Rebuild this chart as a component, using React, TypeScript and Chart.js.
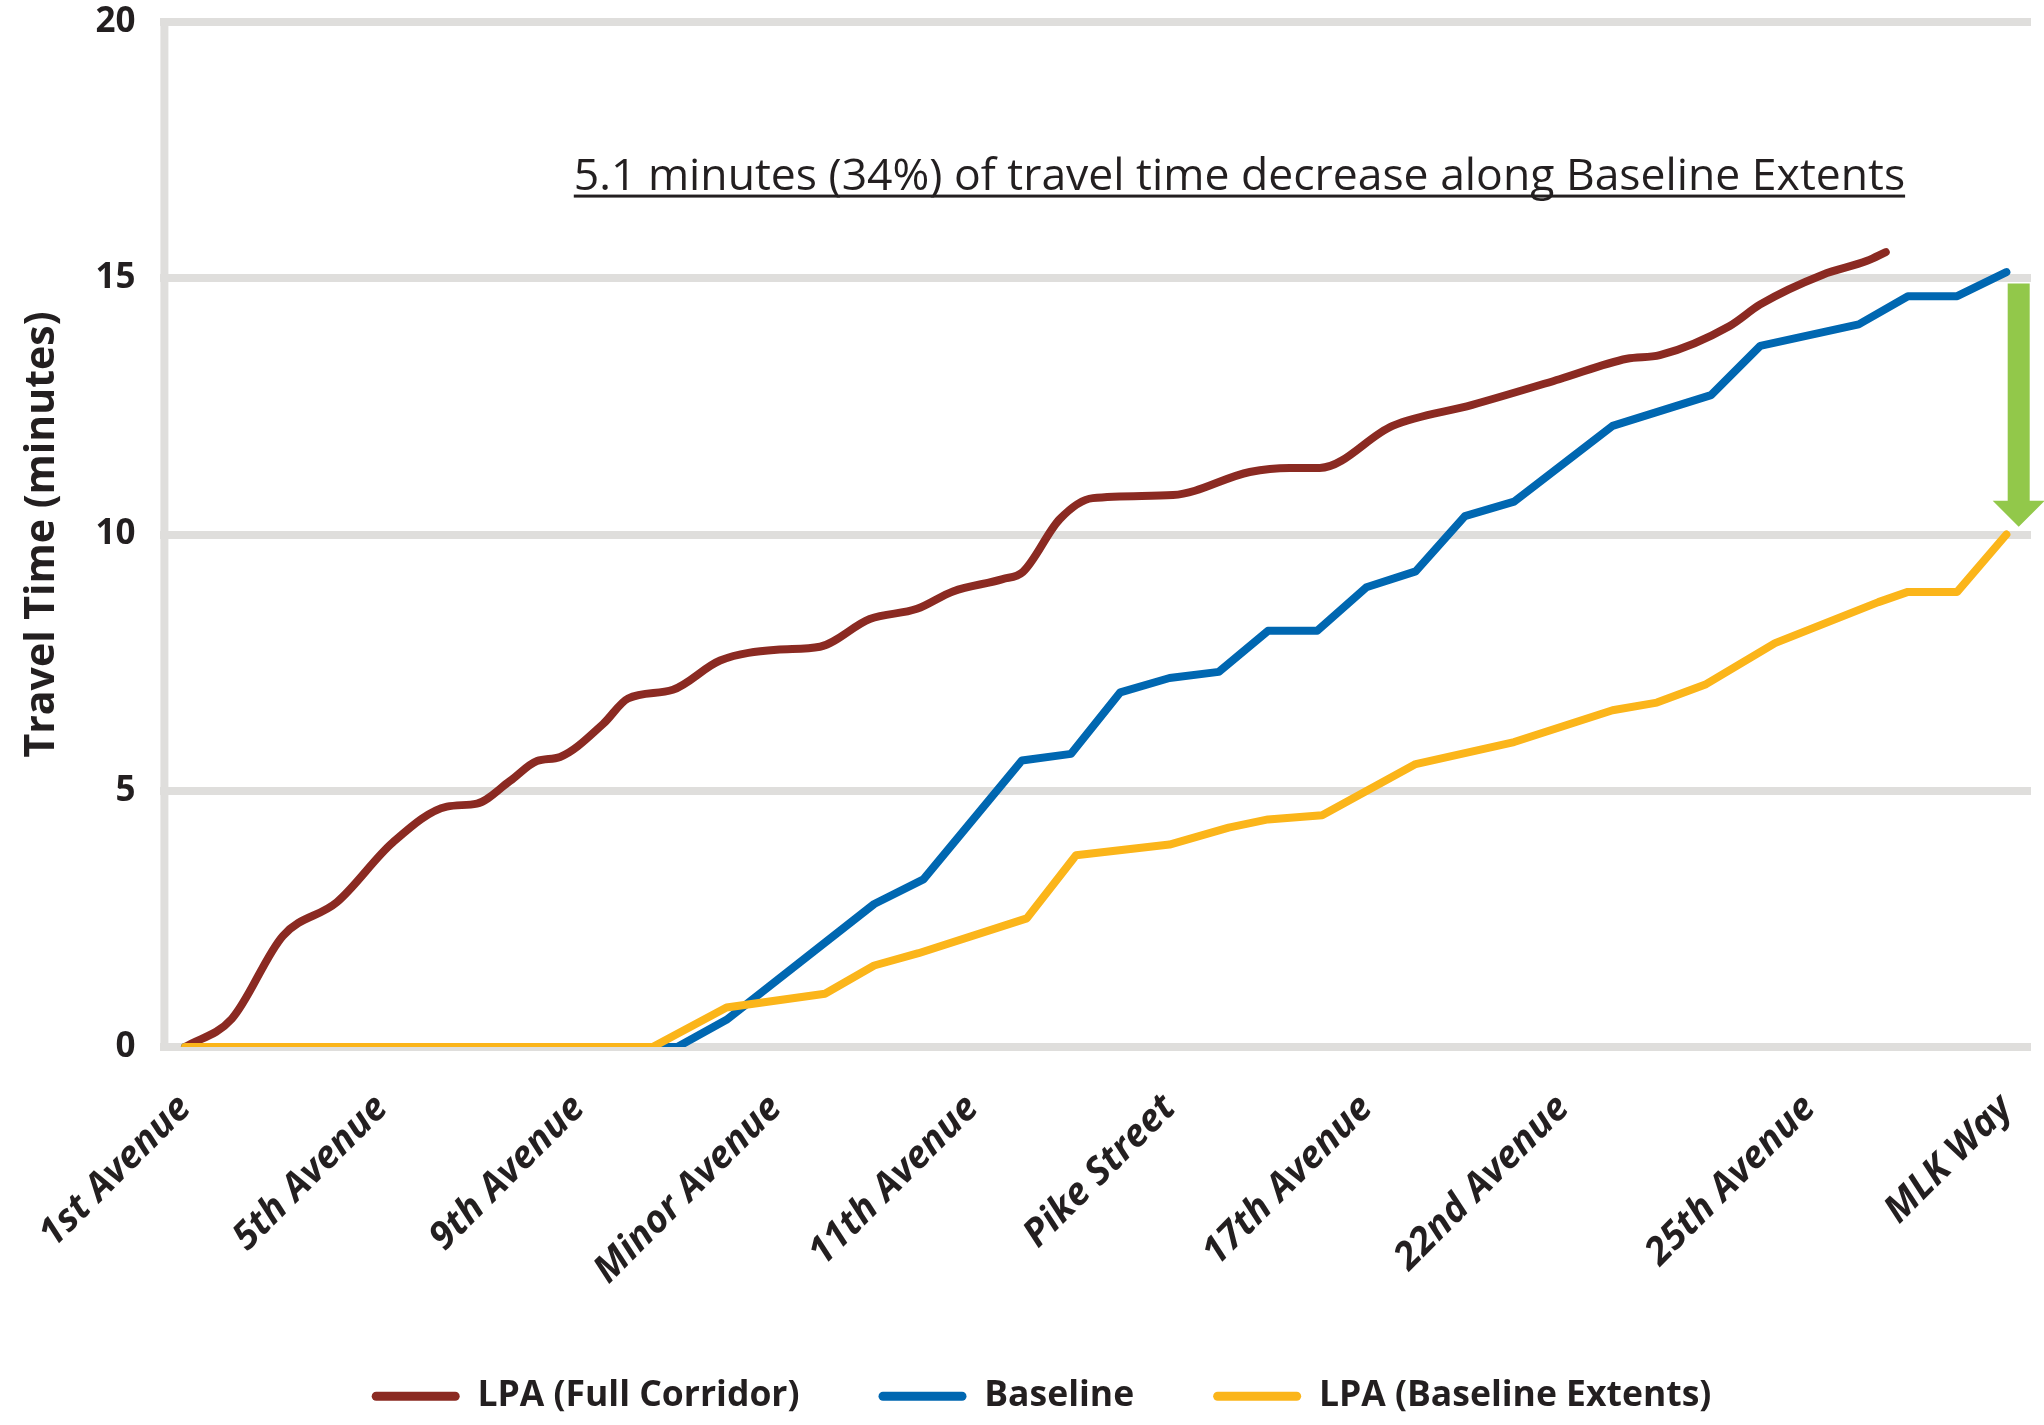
import React, { useEffect, useRef } from 'react';
import { Chart, registerables } from 'chart.js';

Chart.register(...registerables);

// ---- Data ----
const stopLabels = ['1st Avenue', '5th Avenue', '9th Avenue', 'Minor Avenue', '11th Avenue', 'Pike Street', '17th Avenue', '22nd Avenue', '25th Avenue', 'MLK Way'];
const stopPositions = [0, 4, 8, 12, 16, 20, 24, 28, 33, 37];
const yTickValues = [0, 5, 10, 15, 20];

const lpaFullX = [0, 0.95, 1.99, 3.09, 4.22, 5.32, 5.93, 6.6, 7.15, 7.62, 8.49, 9.0, 9.91, 10.87, 12.02, 12.9, 13.91, 14.87, 15.6, 16.61, 17.02, 17.77, 18.44, 20.07, 21.63, 22.44, 23.05, 24.53, 26.15, 27.92, 29.29, 29.96, 31.38, 32.0, 33.27, 34.17, 34.55];
const lpaFullY = [0, 0.55, 2.17, 2.83, 3.99, 4.69, 4.75, 5.19, 5.58, 5.66, 6.3, 6.8, 6.97, 7.54, 7.75, 7.81, 8.35, 8.55, 8.89, 9.13, 9.27, 10.3, 10.71, 10.77, 11.22, 11.3, 11.3, 12.12, 12.53, 13.03, 13.43, 13.5, 14.07, 14.49, 15.07, 15.34, 15.51];

const baselineX = [0, 10, 11, 14, 15, 17, 18, 19, 20, 21, 22, 23, 24, 25, 26, 27, 29, 31, 32, 34, 35, 36, 37];
const baselineY = [0, 0, 0.53, 2.79, 3.27, 5.59, 5.72, 6.92, 7.2, 7.32, 8.12, 8.12, 8.97, 9.28, 10.36, 10.64, 12.12, 12.72, 13.68, 14.1, 14.65, 14.65, 15.12];

const lpaExtentsX = [0, 9.5, 11, 13, 14, 14.9, 17.1, 18.1, 20, 21.2, 22, 23.1, 25, 27, 29, 29.9, 30.9, 32.3, 34.4, 35, 36, 37];
const lpaExtentsY = [0, 0, 0.77, 1.04, 1.59, 1.83, 2.51, 3.74, 3.95, 4.28, 4.44, 4.52, 5.52, 5.95, 6.57, 6.72, 7.08, 7.88, 8.68, 8.88, 8.88, 10.0];

const annotationText = '5.1 minutes (34%) of travel time decrease along Baseline Extents';
const annotationX = 21.42;
const annotationY = 16.73;
const arrowX = 37.25;
const arrowFrom = 14.9;
const arrowTo = 10.15;

// ---- Styles ----
const FONT = "'Open Sans', sans-serif";
const TEXT = '#231F20';
const GRID = '#DFDEDC';
const RED = '#8B2A22';
const BLUE = '#0067B1';
const YELLOW = '#FBB51A';
const GREEN = '#92C84A';

const toPoints = (xs: number[], ys: number[]) => xs.map((x, i) => ({ x, y: ys[i] }));

const decorPlugin = {
  id: 'decor',
  afterLayout(chart: any) {
    const lg = chart.legend;
    if (lg) lg.left += 52;
  },
  beforeDatasetsDraw(chart: any) {
    const { ctx, chartArea } = chart;
    ctx.save();
    ctx.fillStyle = GRID;
    ctx.fillRect(chartArea.left, chartArea.top - 4, 8, chartArea.bottom - chartArea.top + 8);
    ctx.restore();
  },
  afterDatasetsDraw(chart: any) {
    const { ctx, scales } = chart;
    const xs = scales.x;
    const ys = scales.y;
    ctx.save();
    // annotation text with underline
    ctx.font = `400 44.5px ${FONT}`;
    ctx.fillStyle = TEXT;
    ctx.textAlign = 'center';
    ctx.textBaseline = 'alphabetic';
    const cx = xs.getPixelForValue(annotationX);
    const by = ys.getPixelForValue(annotationY);
    ctx.fillText(annotationText, cx, by);
    const w = ctx.measureText(annotationText).width;
    ctx.fillRect(cx - w / 2, by + 5, w, 3);
    // green arrow
    const ax = xs.getPixelForValue(arrowX);
    const y0 = ys.getPixelForValue(arrowFrom);
    const y1 = ys.getPixelForValue(arrowTo);
    const headLen = 26;
    const shaftHalf = 11;
    const headHalf = 26;
    ctx.fillStyle = GREEN;
    ctx.beginPath();
    ctx.moveTo(ax - shaftHalf, y0);
    ctx.lineTo(ax + shaftHalf, y0);
    ctx.lineTo(ax + shaftHalf, y1 - headLen);
    ctx.lineTo(ax + headHalf, y1 - headLen);
    ctx.lineTo(ax, y1);
    ctx.lineTo(ax - headHalf, y1 - headLen);
    ctx.lineTo(ax - shaftHalf, y1 - headLen);
    ctx.closePath();
    ctx.fill();
    ctx.restore();
  },
};

export default function App() {
  const canvasRef = useRef<HTMLCanvasElement | null>(null);

  useEffect(() => {
    const canvas = canvasRef.current;
    if (!canvas) return;
    const common = {
      pointRadius: 0,
      pointHoverRadius: 0,
      borderWidth: 8,
      borderCapStyle: 'round' as const,
      borderJoinStyle: 'round' as const,
      fill: false,
    };
    const chart = new Chart(canvas, {
      type: 'line',
      data: {
        datasets: [
          {
            ...common,
            label: 'LPA (Full Corridor)',
            data: toPoints(lpaFullX, lpaFullY),
            borderColor: RED,
            backgroundColor: RED,
            cubicInterpolationMode: 'monotone',
            order: 2,
          },
          {
            ...common,
            label: 'Baseline',
            data: toPoints(baselineX, baselineY),
            borderColor: BLUE,
            backgroundColor: BLUE,
            tension: 0,
            order: 1,
          },
          {
            ...common,
            label: 'LPA (Baseline Extents)',
            data: toPoints(lpaExtentsX, lpaExtentsY),
            borderColor: YELLOW,
            backgroundColor: YELLOW,
            tension: 0,
            order: 0,
          },
        ],
      },
      options: {
        responsive: false,
        animation: false,
        events: [],
        layout: { padding: { top: 22, right: 13, bottom: 1, left: 0 } },
        scales: {
          x: {
            type: 'linear',
            min: -0.5,
            max: 37.5,
            grid: { display: false, drawTicks: false },
            border: { display: false },
            afterBuildTicks: (scale: any) => {
              scale.ticks = stopPositions.map((v) => ({ value: v }));
            },
            afterFit: (scale: any) => {
              scale.height = 252.5;
              scale.paddingLeft = 0;
              scale.paddingRight = 0;
            },
            ticks: {
              autoSkip: false,
              minRotation: 45,
              maxRotation: 45,
              padding: 39,
              color: TEXT,
              font: { family: FONT, size: 38, weight: 'bold', style: 'italic' },
              callback: (v: any) => {
                const k = stopPositions.indexOf(Number(v));
                return k >= 0 ? stopLabels[k] : '';
              },
            },
          },
          y: {
            type: 'linear',
            min: 0,
            max: 20,
            grid: { color: GRID, lineWidth: 8, drawTicks: false },
            border: { display: false },
            afterBuildTicks: (scale: any) => {
              scale.ticks = yTickValues.map((v) => ({ value: v }));
            },
            afterFit: (scale: any) => {
              scale.width = 160.4;
              scale.paddingTop = 0;
              scale.paddingBottom = 0;
            },
            ticks: {
              padding: 25,
              color: TEXT,
              font: { family: FONT, size: 35, weight: 'bold' },
            },
            title: {
              display: true,
              text: 'Travel Time (minutes)',
              color: TEXT,
              font: { family: FONT, size: 41, weight: 'bold' },
              padding: { top: 18, bottom: 0 },
            },
          },
        },
        plugins: {
          tooltip: { enabled: false },
          legend: {
            position: 'bottom',
            labels: {
              boxWidth: 88,
              boxHeight: 9,
              padding: 79,
              color: TEXT,
              font: { family: FONT, size: 35.5, weight: 'bold' },
              useBorderRadius: true,
              borderRadius: 4.5,
              sort: (a: any, b: any) => a.datasetIndex - b.datasetIndex,
              generateLabels: (ch: any) =>
                (Chart.defaults.plugins.legend.labels.generateLabels as any)(ch).map((l: any) => ({
                  ...l,
                  fillStyle: l.strokeStyle,
                  lineWidth: 0,
                  borderRadius: 4.5,
                })),
            },
          },
        },
      } as any,
      plugins: [decorPlugin],
    });
    return () => chart.destroy();
  }, []);

  return (
    <div style={{ position: 'absolute', left: 0, top: 0, width: 2044, height: 1425, background: '#fff' }}>
      <canvas ref={canvasRef} width={2044} height={1425} style={{ display: 'block' }} />
    </div>
  );
}
